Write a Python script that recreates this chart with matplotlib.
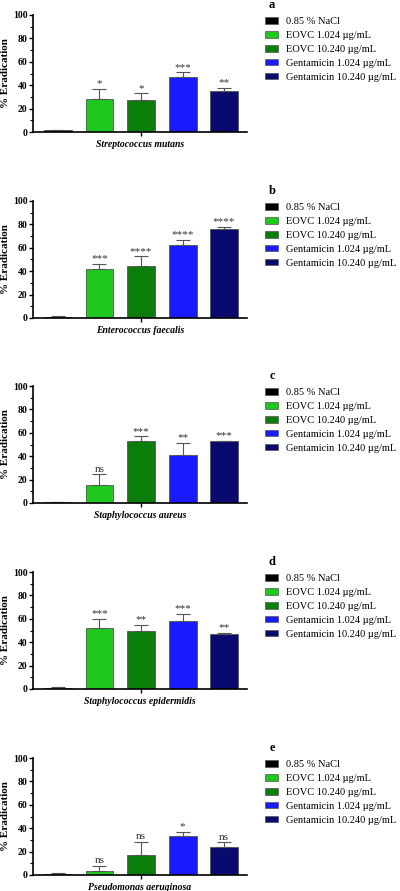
import numpy as np
import matplotlib.pyplot as plt
from matplotlib.ticker import MultipleLocator

plt.rcParams['font.family'] = ['Liberation Serif', 'DejaVu Serif']

groups = ['0.85 % NaCl', 'EOVC 1.024 \u00b5g/mL', 'EOVC 10.240 \u00b5g/mL',
          'Gentamicin 1.024 \u00b5g/mL', 'Gentamicin 10.240 \u00b5g/mL']
colors = ['#000000', '#1ec81e', '#0a7d0a', '#1a1aff', '#0a0a6e']

panels = ['a', 'b', 'c', 'd', 'e']
species = ['Streptococcus mutans', 'Enterococcus faecalis', 'Staphylococcus aureus',
           'Staphylococcus epidermidis', 'Pseudomonas aeruginosa']

means_a = [1.4, 27.9, 27.1, 47.0, 35.0]
errs_a = [0.4, 9.1, 5.9, 4.0, 2.9]
sig_a = ['', '*', '*', '***', '**']

means_b = [1.2, 41.7, 44.6, 62.0, 76.0]
errs_b = [0.4, 4.3, 8.0, 5.0, 1.7]
sig_b = ['', '***', '****', '****', '****']

means_c = [0.8, 15.3, 53.4, 41.0, 52.6]
errs_c = [0.3, 9.4, 3.6, 10.7, 0.3]
sig_c = ['', 'ns', '***', '**', '***']

means_d = [1.2, 52.3, 49.4, 58.3, 47.4]
errs_d = [0.3, 7.4, 5.2, 6.0, 0.3]
sig_d = ['', '***', '**', '***', '**']

means_e = [1.0, 3.7, 16.9, 33.1, 23.7]
errs_e = [0.3, 4.0, 11.7, 3.8, 4.3]
sig_e = ['', 'ns', 'ns', '*', 'ns']

all_means = [means_a, means_b, means_c, means_d, means_e]
all_errs = [errs_a, errs_b, errs_c, errs_d, errs_e]
all_sig = [sig_a, sig_b, sig_c, sig_d, sig_e]

W, H = 400, 891
fig = plt.figure(figsize=(W / 100, H / 100), dpi=100)

tops = [15, 201, 386, 572, 758]
ax_h = 117
x = np.arange(5)

for i in range(5):
    ax = fig.add_axes([33 / W, 1 - (tops[i] + ax_h) / H, 214 / W, ax_h / H])
    m = all_means[i]
    e = all_errs[i]
    ax.bar(x, m, width=0.67, color=colors, edgecolor='#555555', linewidth=0.6)
    ax.errorbar(x, m, yerr=[np.zeros(5), e], fmt='none', ecolor='#555555',
                elinewidth=0.8, capsize=5, capthick=0.8)
    for j in range(5):
        if all_sig[i][j]:
            ax.text(x[j], m[j] + e[j] + 0.5, all_sig[i][j], ha='center', va='bottom',
                    fontsize=8, color='#333333')
    ax.set_xlim(-0.6, 4.55)
    ax.set_ylim(0, 100)
    ax.yaxis.set_major_locator(MultipleLocator(20))
    ax.yaxis.set_minor_locator(MultipleLocator(10))
    ax.set_xticks([2])
    ax.set_xticklabels([''])
    ax.set_xlabel(species[i], fontsize=7, fontweight='bold', fontstyle='italic', labelpad=-1)
    ax.set_ylabel('% Eradication', fontsize=8, fontweight='bold', labelpad=2)
    for lab in ax.get_yticklabels():
        lab.set_fontweight('bold')
        lab.set_fontsize(7)
    ax.tick_params(axis='y', length=3, width=1, pad=1)
    ax.tick_params(axis='y', which='minor', length=2, width=0.8)
    ax.tick_params(axis='x', length=3, width=1)
    ax.spines['top'].set_visible(False)
    ax.spines['right'].set_visible(False)
    ax.spines['left'].set_linewidth(1.2)
    ax.spines['bottom'].set_linewidth(1.2)

    handles = [plt.Rectangle((0, 0), 1, 1, facecolor=c, edgecolor='#555555', linewidth=0.5)
               for c in colors]
    ax.legend(handles, groups, loc='upper left', bbox_to_anchor=(232 / 214, 0.979),
              frameon=False, fontsize=7.5, handlelength=1.25, handleheight=0.6,
              labelspacing=0.46, handletextpad=0.75, borderaxespad=0, borderpad=0)
    fig.text(272 / W, 1 - (tops[i] - 10) / H, panels[i], fontsize=9, fontweight='bold',
             ha='center', va='center')

fig.savefig('out.png', dpi=100)
